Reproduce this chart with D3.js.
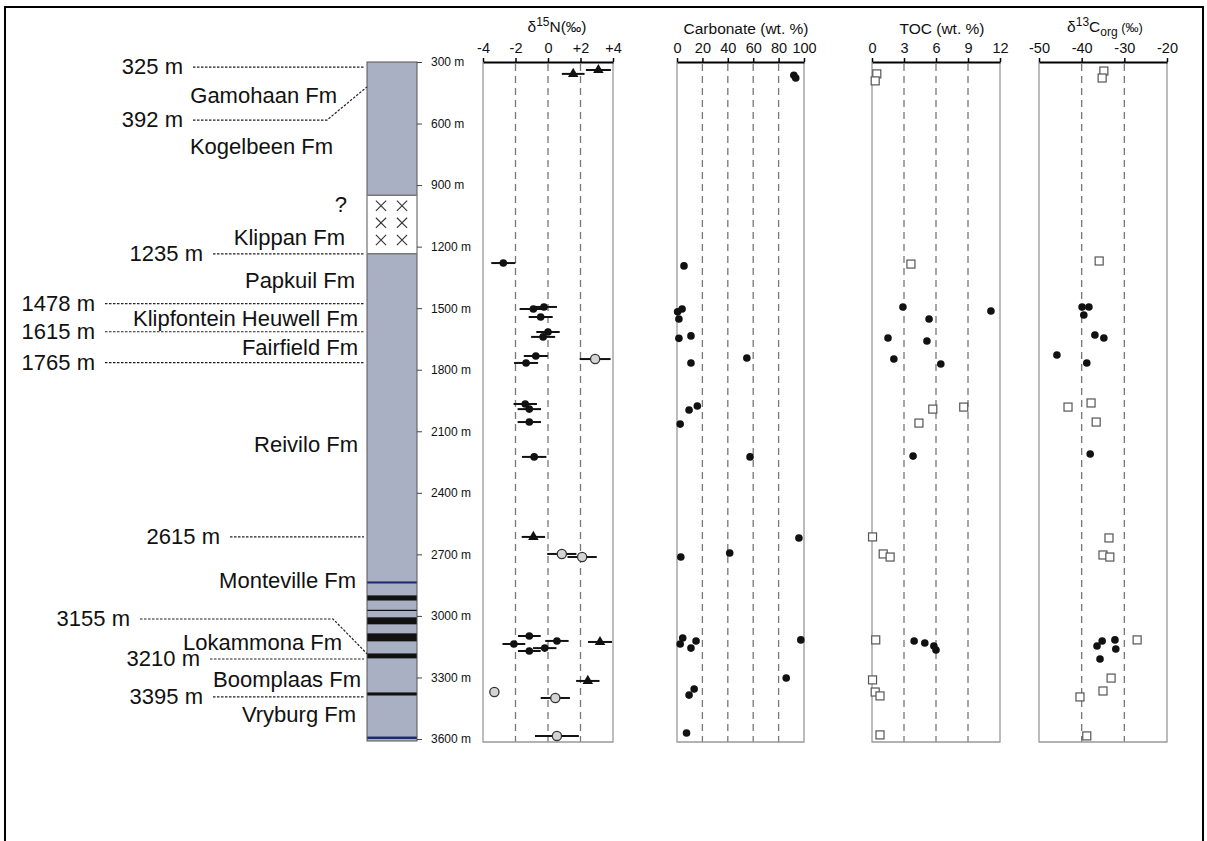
<!DOCTYPE html>
<html>
<head>
<meta charset="utf-8">
<script src="https://cdn.jsdelivr.net/npm/d3@7"></script>
<style>
  body { margin: 0; background: #fff; }
  text { font-family: "Liberation Sans", Arial, sans-serif; fill: #111; }
  .fm { font-size: 22px; }
  .dax text { font-size: 12px; }
  .pax text { font-size: 14.5px; }
  .ttl { font-size: 15.5px; }
</style>
</head>
<body>
<svg id="svg"></svg>
<script>
// ---- data (depth in m) ----
var depthTicks = [300, 600, 900, 1200, 1500, 1800, 2100, 2400, 2700, 3000, 3300, 3600];

var boundaryDepth = [325, 392, 1235, 1478, 1615, 1765, 2615, 3155, 3210, 3395];
var boundaryLabelDepth = [325, 583, 1235, 1478, 1615, 1765, 2615, 3015, 3210, 3395];

var formationNames = ["Gamohaan Fm", "Kogelbeen Fm", "?", "Klippan Fm", "Papkuil Fm",
  "Klipfontein Heuwell Fm", "Fairfield Fm", "Reivilo Fm", "Monteville Fm",
  "Lokammona Fm", "Boomplaas Fm", "Vryburg Fm"];
var formationLabelDepth = [461, 709, 992, 1153, 1363, 1548, 1689, 2162, 2825, 3127, 3308, 3478];

var gapTop = 950, gapBottom = 1235; // Klippan (white, crossed)

// [top, bottom, kind]
var bands = [
  [2832, 2842, "navy"], [2900, 2925, "black"], [2970, 2976, "black"],
  [3007, 3041, "black"], [3085, 3124, "black"], [3183, 3207, "black"],
  [3373, 3388, "black"], [3588, 3600, "navy"]
];

// d15N: [depth, value, error]
var n15Tri = [[339, 3.1, 0.77], [358, 1.55, 0.7], [2615, -0.9, 0.72], [3127, 3.2, 0.74], [3317, 2.45, 0.72]];
var n15Dot = [
  [1280, -2.75, 0.74], [1494, -0.25, 0.8], [1504, -0.9, 0.85], [1543, -0.45, 0.74],
  [1616, 0.0, 0.72], [1640, -0.3, 0.74], [1733, -0.75, 0.74], [1767, -1.35, 0.74],
  [1967, -1.4, 0.72], [1992, -1.15, 0.72], [2055, -1.15, 0.72], [2225, -0.85, 0.75],
  [3098, -1.15, 0.7], [3122, 0.55, 0.72], [3137, -2.1, 0.7], [3157, -0.2, 0.72], [3171, -1.15, 0.7]
];
var n15Open = [[1748, 2.9, 0.95], [2698, 0.85, 0.9], [2713, 2.1, 0.9], [3371, -3.3, 0], [3400, 0.45, 0.9], [3585, 0.55, 1.35]];

// carbonate wt.% : [depth, value]
var carbDot = [
  [365, 92], [378, 93.5], [1294, 5.5], [1504, 4], [1518, 0.5], [1553, 1.5], [1635, 11],
  [1647, 1.5], [1743, 55], [1767, 11], [1977, 16], [1996, 9.5], [2065, 2.5], [2225, 57.5],
  [2620, 96], [2693, 41.5], [2713, 3], [3108, 4.5], [3117, 97.5], [3122, 15], [3137, 2.5],
  [3157, 11], [3303, 86], [3356, 13.5], [3386, 9.5], [3571, 7.5]
];

// TOC wt.%
var tocSquare = [
  [358, 0.45], [392, 0.3], [1285, 3.65], [1982, 8.6], [1992, 5.7], [2060, 4.4],
  [2615, 0.05], [2698, 1.05], [2713, 1.7], [3117, 0.35], [3312, 0.05], [3371, 0.3],
  [3390, 0.75], [3580, 0.75]
];
var tocDot = [
  [1494, 2.9], [1514, 11.15], [1553, 5.35], [1645, 1.5], [1660, 5.15], [1748, 2.05],
  [1772, 6.45], [2221, 3.85], [3122, 3.95], [3132, 4.95], [3147, 5.8], [3166, 6.0]
];

// d13Corg permil
var c13Square = [
  [344, -34.8], [378, -35.2], [1270, -35.9], [1962, -37.8], [1982, -43.2], [2055, -36.6],
  [2620, -33.6], [2703, -35.0], [2713, -33.4], [3117, -27.0], [3303, -33.1], [3366, -35.0],
  [3395, -40.4], [3585, -38.8]
];
var c13Dot = [
  [1494, -39.9], [1494, -38.3], [1533, -39.5], [1631, -36.9], [1645, -34.8], [1728, -45.8],
  [1767, -38.8], [2211, -38.0], [3117, -32.2], [3122, -35.2], [3147, -36.4], [3161, -32.0],
  [3210, -35.7]
];

// ---- layout ----
var W = 1207, H = 841;
var svg = d3.select("#svg").attr("width", W).attr("height", H);

svg.append("rect").attr("x", 5).attr("y", 7).attr("width", 1198).attr("height", 900)
  .attr("fill", "none").attr("stroke", "#000").attr("stroke-width", 2);

var y = d3.scaleLinear().domain([300, 3600]).range([62, 739]);
var colL = 367, colR = 417, panelBottom = 742;

// column
var col = svg.append("g");
col.append("rect").attr("x", colL).attr("y", y(300)).attr("width", colR - colL)
  .attr("height", y(3600) - y(300) + 2).attr("fill", "#aab0c4");
col.append("rect").attr("x", colL).attr("y", y(gapTop)).attr("width", colR - colL)
  .attr("height", y(gapBottom) - y(gapTop)).attr("fill", "#fff");
col.selectAll(".band").data(bands).enter().append("rect")
  .attr("x", colL).attr("width", colR - colL)
  .attr("y", function(d) { return y(d[0]); })
  .attr("height", function(d) { return Math.max(1, y(d[1]) - y(d[0])); })
  .attr("fill", function(d) { return d[2] == "navy" ? "#1c2a6e" : "#111"; });
col.append("rect").attr("x", colL).attr("y", y(300)).attr("width", colR - colL)
  .attr("height", y(3600) - y(300) + 2).attr("fill", "none").attr("stroke", "#555").attr("stroke-width", 1);
col.selectAll(".gl").data([gapTop, gapBottom]).enter().append("line")
  .attr("x1", colL).attr("x2", colR).attr("y1", y).attr("y2", y)
  .attr("stroke", "#777").attr("stroke-width", 1.5);

var crossRows = d3.range(3), crossCols = [381, 402];
var cross = d3.symbol().type(d3.symbolTimes).size(70);
crossRows.forEach(function(r) {
  crossCols.forEach(function(cx) {
    var cy = y(gapTop) + (y(gapBottom) - y(gapTop)) * (r + 0.6) / 3.4;
    col.append("path").attr("d", cross).attr("transform", "translate(" + cx + "," + cy + ")")
      .attr("fill", "none").attr("stroke", "#333").attr("stroke-width", 1.1);
  });
});

// depth axis
var dax = svg.append("g").attr("class", "dax").attr("transform", "translate(" + colR + ",0)")
  .call(d3.axisRight(y).tickValues(depthTicks).tickSize(5).tickPadding(9)
    .tickFormat(function(d) { return d + " m"; }));
dax.select(".domain").remove();
dax.selectAll("line").attr("stroke", "#444");

// boundary labels and dashed leaders
var textEnd = [183, 183, 203, 95, 95, 95, 220, 130, 200, 203];
boundaryDepth.forEach(function(d, i) {
  var ly = y(boundaryLabelDepth[i]);
  svg.append("text").attr("class", "fm").attr("x", textEnd[i]).attr("y", ly + 7)
    .attr("text-anchor", "end").text(d + " m");
  var x0 = textEnd[i] + 10, pts;
  if (boundaryLabelDepth[i] != d) {
    var bend = i == 1 ? 327 : 333;
    pts = [[x0, ly], [bend, ly], [colL, y(d) + 6]];
  } else {
    pts = [[x0, y(d)], [colL - 3, y(d)]];
  }
  svg.append("path").attr("d", d3.line()(pts)).attr("fill", "none")
    .attr("stroke", "#222").attr("stroke-width", 1.2).attr("stroke-dasharray", "2.5,1.5");
});

var fmEnd = [337, 333, 347, 345, 355, 358, 358, 358, 356, 342, 361, 356];
formationNames.forEach(function(n, i) {
  svg.append("text").attr("class", "fm").attr("x", fmEnd[i]).attr("y", y(formationLabelDepth[i]) + 8)
    .attr("text-anchor", "end").text(n);
});

// ---- panels ----
function panel(x0, x1, domain, ticks, grid, fmt) {
  var x = d3.scaleLinear().domain(domain).range([x0, x1]);
  var g = svg.append("g");
  g.selectAll(".grid").data(grid).enter().append("line")
    .attr("x1", x).attr("x2", x).attr("y1", 64).attr("y2", panelBottom)
    .attr("stroke", "#777").attr("stroke-width", 1.3).attr("stroke-dasharray", "7,5");
  g.append("path").attr("d", d3.line()([[x0, 62], [x0, panelBottom], [x1, panelBottom], [x1, 62]]))
    .attr("fill", "none").attr("stroke", "#999").attr("stroke-width", 1.3);
  var ax = g.append("g").attr("class", "pax").attr("transform", "translate(0,62)")
    .call(d3.axisTop(x).tickValues(ticks).tickSize(4).tickSizeOuter(0).tickPadding(5).tickFormat(fmt));
  ax.select(".domain").attr("stroke", "#000").attr("stroke-width", 2);
  ax.selectAll(".tick line").attr("stroke", "#000").attr("stroke-width", 1.5);
  return x;
}

var xN = panel(483, 613, [-4, 4], [-4, -2, 0, 2, 4], [-2, 0, 2],
  function(d) { return d > 0 ? "+" + d : String(d); });
var xC = panel(677, 804, [0, 100], [0, 20, 40, 60, 80, 100], [20, 40, 60, 80], String);
var xT = panel(872, 1000, [0, 12], [0, 3, 6, 9, 12], [3, 6, 9], String);
var xO = panel(1039, 1167, [-50, -20], [-50, -40, -30, -20], [-40, -30], String);

// titles
var t1 = svg.append("text").attr("class", "ttl").attr("x", 557).attr("y", 32).attr("text-anchor", "middle");
t1.append("tspan").text("δ");
t1.append("tspan").attr("dy", -6).attr("font-size", 12).text("15");
t1.append("tspan").attr("dy", 6).text("N(‰)");
svg.append("text").attr("class", "ttl").attr("x", 746).attr("y", 34).attr("text-anchor", "middle").text("Carbonate (wt. %)");
svg.append("text").attr("class", "ttl").attr("x", 942).attr("y", 34).attr("text-anchor", "middle").text("TOC (wt. %)");
var t4 = svg.append("text").attr("class", "ttl").attr("x", 1105).attr("y", 32).attr("text-anchor", "middle");
t4.append("tspan").text("δ");
t4.append("tspan").attr("dy", -6).attr("font-size", 12).text("13");
t4.append("tspan").attr("dy", 6).text("C");
t4.append("tspan").attr("dy", 4).attr("font-size", 12).text("org");
t4.append("tspan").attr("dy", -4).attr("font-size", 13).text(" (‰)");

// d15N marks
var all15 = n15Tri.concat(n15Dot, n15Open).filter(function(d) { return d[2] > 0; });
svg.selectAll(".err").data(all15).enter().append("line")
  .attr("x1", function(d) { return xN(d[1] - d[2]); })
  .attr("x2", function(d) { return xN(d[1] + d[2]); })
  .attr("y1", function(d) { return y(d[0]); }).attr("y2", function(d) { return y(d[0]); })
  .attr("stroke", "#111").attr("stroke-width", 2);
var tri = d3.symbol().type(d3.symbolTriangle).size(48);
svg.selectAll(".tri").data(n15Tri).enter().append("path").attr("d", tri)
  .attr("transform", function(d) { return "translate(" + xN(d[1]) + "," + y(d[0]) + ")"; })
  .attr("fill", "#111");
svg.selectAll(".n15dot").data(n15Dot).enter().append("circle")
  .attr("cx", function(d) { return xN(d[1]); }).attr("cy", function(d) { return y(d[0]); })
  .attr("r", 3.8).attr("fill", "#111");
svg.selectAll(".n15open").data(n15Open).enter().append("circle")
  .attr("cx", function(d) { return xN(d[1]); }).attr("cy", function(d) { return y(d[0]); })
  .attr("r", 4.6).attr("fill", "#d4d4d4").attr("stroke", "#333").attr("stroke-width", 1.3);

function dots(data, x) {
  svg.append("g").selectAll("circle").data(data).enter().append("circle")
    .attr("cx", function(d) { return x(d[1]); }).attr("cy", function(d) { return y(d[0]); })
    .attr("r", 3.8).attr("fill", "#111");
}
function squares(data, x) {
  svg.append("g").selectAll("rect").data(data).enter().append("rect")
    .attr("x", function(d) { return x(d[1]) - 4; }).attr("y", function(d) { return y(d[0]) - 4; })
    .attr("width", 8).attr("height", 8)
    .attr("fill", "#fff").attr("stroke", "#555").attr("stroke-width", 1.2);
}
dots(carbDot, xC);
squares(tocSquare, xT);
dots(tocDot, xT);
squares(c13Square, xO);
dots(c13Dot, xO);
</script>
</body>
</html>
